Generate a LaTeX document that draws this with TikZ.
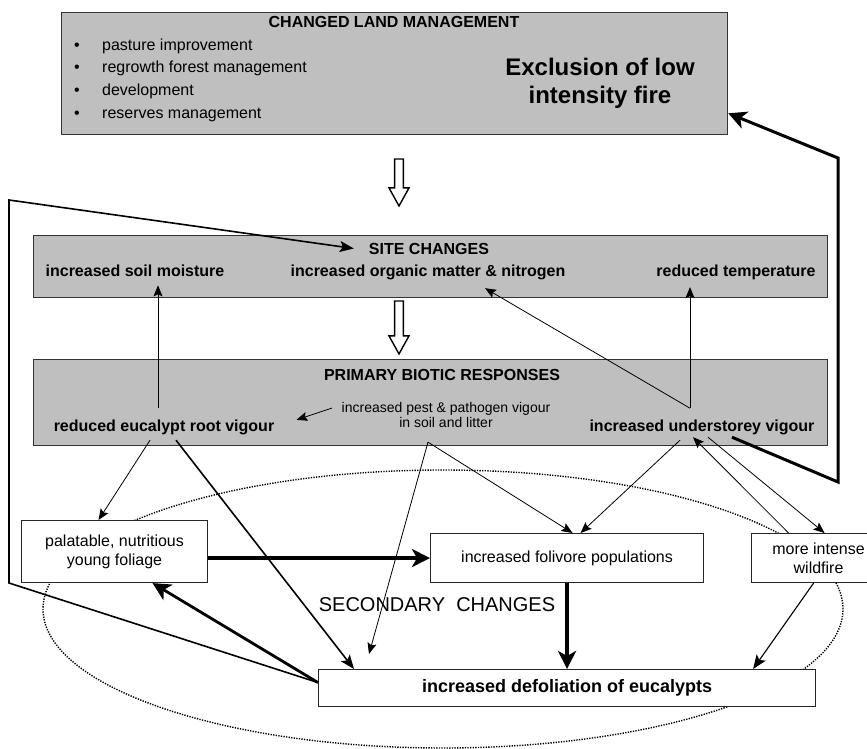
\documentclass[tikz,border=0pt]{standalone}
\usepackage{fontspec}
\setmainfont{Liberation Sans}
\usetikzlibrary{arrows.meta,shapes.arrows,shapes.geometric}

\begin{document}
\begin{tikzpicture}[x=1pt, y=-1pt,
    graybox/.style={draw=black!80, line width=1.3pt, fill=black!25,
                    inner sep=0pt, anchor=north west},
    whitebox/.style={draw=black!85, line width=1.1pt, fill=white, inner sep=0pt,
                     anchor=north west, align=center,
                     font=\fontsize{16}{19}\selectfont},
    hdr/.style={font=\bfseries\fontsize{16}{19}\selectfont, inner sep=0pt, anchor=base},
    plain/.style={font=\fontsize{16}{19}\selectfont, inner sep=0pt, anchor=base west},
    hollow/.style={single arrow, draw=black, fill=white, line width=1.4pt,
                   minimum width=20pt, single arrow head extend=5.5pt,
                   single arrow tip angle=58, inner xsep=0pt, inner ysep=3.6pt,
                   rotate=-90},
    thinarrow/.style={-{Stealth[length=11pt,width=9pt,inset=2pt]}, line width=0.8pt},
    midarrow/.style={-{Stealth[length=14pt,width=11pt,inset=3pt]}, line width=1.6pt},
    fatarrow/.style={-{Stealth[length=18pt,width=18pt,inset=5pt]}, line width=3.4pt}]
\useasboundingbox (0,0) rectangle (867,749);

% the three grey levels
\node[graybox, minimum width=666pt, minimum height=122pt] (land) at (61,12) {};
\node[graybox, minimum width=794pt, minimum height=62pt]  (site) at (33,235) {};
\node[graybox, minimum width=794pt, minimum height=86pt]  (prim) at (33,359) {};

% secondary changes
\node[ellipse, draw, dash pattern=on 1.3pt off 1.3pt, line width=1.4pt,
      minimum width=800pt, minimum height=278pt, inner sep=0pt] (second) at (443,609) {};

\node[hdr] (landhead) at (394,28) {CHANGED LAND MANAGEMENT};
\foreach \entry [count=\i] in {pasture improvement, regrowth forest management,
                               development, reserves management}
  \node[plain] (entry\i) at (74,{27.5+22.7*\i}) {\makebox[28pt][l]{\textbullet}\entry};
\node[font=\bfseries\fontsize{24}{28}\selectfont, align=center, inner sep=0pt]
     (fire) at (600,83) {Exclusion of low\\intensity fire};

\node[hollow, minimum height=47pt] (downA) at (399,178.5) {};
\node[hollow, minimum height=53pt] (downB) at (399,323.5) {};

\node[hdr] (sitehead) at (429,254) {SITE CHANGES};
\node[hdr] (soil)     at (135,276) {increased soil moisture};
\node[hdr] (organic)  at (428,276) {increased organic matter \& nitrogen};
\node[hdr] (temp)     at (736,276) {reduced temperature};

\node[hdr] (primhead) at (442,380) {PRIMARY BIOTIC RESPONSES};
\node[hdr] (root)     at (164,431) {reduced eucalypt root vigour};
\node[hdr] (under)    at (702,431) {increased understorey vigour};
\node[font=\fontsize{14}{15}\selectfont, align=center, inner sep=0pt]
     (pest) at (446,414.5) {increased pest \& pathogen vigour\\in soil and litter};

\node[whitebox, minimum width=186pt, minimum height=62pt] (foliage) at (21,520)
     {palatable, nutritious\\young foliage};
\node[whitebox, minimum width=273pt, minimum height=49pt] (foliv) at (430,533)
     {increased folivore populations};
\node[whitebox, minimum width=134pt, minimum height=49pt] (wild) at (751,533)
     {more intense\\wildfire};
\node[whitebox, minimum width=497pt, minimum height=37pt,
      font=\bfseries\fontsize{18}{21}\selectfont] (defol) at (318,669)
     {increased defoliation of eucalypts};
\node[font=\fontsize{20}{24}\selectfont, inner sep=0pt] (seclabel) at (437,605)
     {SECONDARY\ \ CHANGES};

\coordinate (lowleft)  at (9,583);
\coordinate (upleft)   at (9,200);
\coordinate (lowright) at (838,482);
\coordinate (upright)  at (838,158);

% feedback loops
\draw[midarrow] ([yshift=5.5pt]defol.west) -- (lowleft) -- (upleft)
     -- ([xshift=-15pt]sitehead.west);
\draw[fatarrow, line width=3pt] ([xshift=30pt,yshift=-2.6pt]under.south) -- (lowright)
     -- (upright) -- ([yshift=22pt]land.south east);

% primary responses
\draw[thinarrow] ([xshift=-6pt,yshift=11pt]root.north) -- ([xshift=23pt,yshift=-9pt]soil.south);
\draw[thinarrow] ([xshift=-12pt,yshift=11pt]under.north) -- ([xshift=-46pt,yshift=-7.6pt]temp.south);
\draw[thinarrow] ([xshift=-12pt,yshift=11pt]under.north) -- ([xshift=57pt,yshift=-8.6pt]organic.south);
\draw[thinarrow] ([xshift=-9.5pt,yshift=6.5pt]pest.west) -- ([xshift=22pt,yshift=7pt]root.east);
\draw[thinarrow] ([xshift=-14pt,yshift=-5.6pt]root.south) -- ([xshift=-16pt]foliage.north);
\draw[midarrow] ([xshift=12pt,yshift=-5.6pt]root.south) -- ([xshift=36pt]defol.north west);
\draw[thinarrow] ([xshift=-18pt,yshift=-14.8pt]pest.south) -- ([xshift=5.5pt]foliv.north);
\draw[thinarrow] ([xshift=-18pt,yshift=-14.8pt]pest.south) -- ([xshift=51pt,yshift=15pt]defol.north west);
\draw[thinarrow] ([xshift=-22pt,yshift=-5.6pt]under.south) -- ([xshift=13.5pt]foliv.north);
\draw[thinarrow] ([xshift=-30pt]wild.north) -- ([xshift=-9pt,yshift=-2.6pt]under.south);
\draw[thinarrow] ([xshift=6pt,yshift=-2.6pt]under.south) -- ([xshift=6pt]wild.north);

% secondary changes
\draw[fatarrow, line width=4.5pt] (foliage.east |- foliv.west) -- (foliv.west);
\draw[fatarrow] (foliv.south) -- (foliv.south |- defol.north);
\draw[midarrow, line width=1.1pt] ([xshift=-5pt]wild.south) -- ([xshift=-63pt]defol.north east);
\draw[fatarrow, line width=2.8pt] ([yshift=5.5pt]defol.west) -- ([xshift=38pt]foliage.south);

\end{tikzpicture}
\end{document}
